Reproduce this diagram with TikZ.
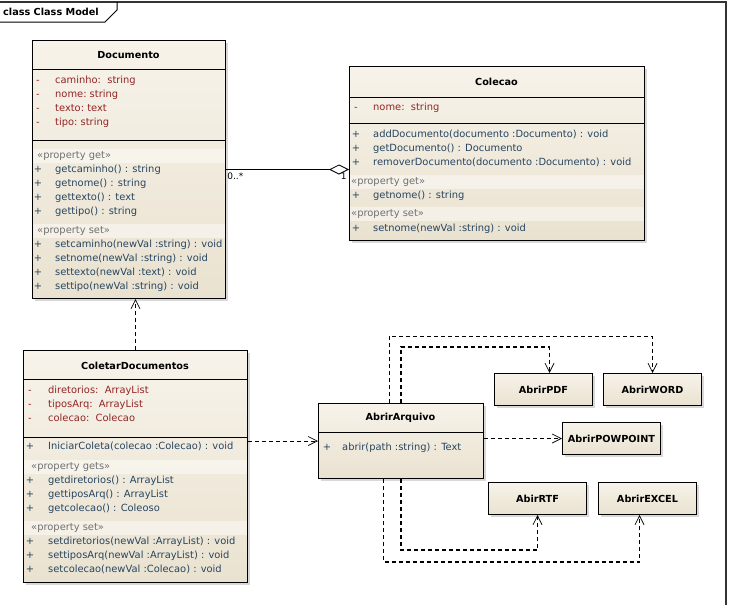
\documentclass[tikz,border=0pt]{standalone}
\usepackage{fontspec}
\setmainfont{DejaVu Sans}
\usetikzlibrary{arrows.meta,shadows,positioning,calc}

\definecolor{boxtop}{HTML}{F7F3EA}
\definecolor{boxbot}{HTML}{EAE2D0}
\definecolor{attrcol}{HTML}{922525}
\definecolor{methcol}{HTML}{274560}
\definecolor{stereocol}{HTML}{707070}

\tikzset{
  classbox/.style={draw=black, line width=1pt, top color=boxtop, bottom color=boxbot,
    drop shadow={shadow xshift=2.5pt, shadow yshift=-2.5pt, fill=black!30},
    inner sep=0pt, anchor=north west},
  smallbox/.style={classbox, minimum width=98pt, minimum height=32pt,
    font=\fontsize{9.7}{11}\selectfont\bfseries},
  titletext/.style={font=\fontsize{9.7}{11}\selectfont\bfseries, inner sep=0pt},
  member/.style={font=\fontsize{9.9}{11}\selectfont, inner sep=0pt, anchor=west,
    text height=7pt, text depth=2pt},
  attr/.style={member, text=attrcol},
  meth/.style={member, text=methcol},
  stereo/.style={member, text=stereocol},
  lbl/.style={font=\fontsize{9}{11}\selectfont, inner sep=1pt},
  band/.style={fill=white, fill opacity=0.45},
  sep/.style={line width=1pt},
  dep/.style={dash pattern=on 4pt off 3pt, line width=0.7pt,
    -{Straight Barb[length=9pt, width=9pt, line width=0.7pt]}},
  depbold/.style={dep, line width=1.1pt}
}

\begin{document}
\begin{tikzpicture}[x=1pt, y=-1pt]
\useasboundingbox (0,0) rectangle (730,605);

% moldura do diagrama
\draw[line width=1.2pt, black!80] (0,2) -- (726,2) -- (726,605);
\draw[line width=1pt] (0,22) -- (105,22) -- (117,10) -- (117,2);
\node[titletext, anchor=west] (frame) at (3,12) {class Class Model};

% classe Documento
\node[classbox, minimum width=193pt, minimum height=258pt] (doc) at (32,40) {};
\fill[band] (32.5,149) rectangle (224.5,163);
\fill[band] (32.5,224) rectangle (224.5,238);
\draw[sep] (32,69) -- (225,69);
\draw[sep] (32,140) -- (225,140);
\node[titletext] (doc-t) at (128.5,55) {Documento};
\foreach \txt [count=\i] in {caminho:\ \ string, nome:\ string, texto:\ text, tipo:\ string}{
  \node[attr, anchor=center] (doc-s\i) at (38,{67+14*\i}) {-};
  \node[attr] (doc-a\i) at (55,{67+14*\i}) {\txt};
}
\node[stereo] (doc-g) at (37,156) {«property get»};
\foreach \txt [count=\i] in {getcaminho() : string, getnome() : string, gettexto() : text, gettipo() : string}{
  \node[meth, anchor=center] (doc-gs\i) at (38,{156+14*\i}) {+};
  \node[meth] (doc-gm\i) at (55,{156+14*\i}) {\txt};
}
\node[stereo] (doc-p) at (37,231) {«property set»};
\foreach \txt [count=\i] in {setcaminho(newVal :string) : void, setnome(newVal :string) : void, settexto(newVal :text) : void, settipo(newVal :string) : void}{
  \node[meth, anchor=center] (doc-ps\i) at (38,{231+14*\i}) {+};
  \node[meth] (doc-pm\i) at (55,{231+14*\i}) {\txt};
}

% classe Colecao
\node[classbox, minimum width=295pt, minimum height=174pt] (col) at (349,66) {};
\fill[band] (349.5,175) rectangle (643.5,189);
\fill[band] (349.5,207) rectangle (643.5,221);
\draw[sep] (349,97) -- (644,97);
\draw[sep] (349,123) -- (644,123);
\node[titletext] (col-t) at (496.5,82) {Colecao};
\node[attr, anchor=center] (col-s1) at (356,108) {-};
\node[attr] (col-a1) at (373,108) {nome:\ \ string};
\foreach \txt [count=\i] in {addDocumento(documento :Documento) : void, getDocumento() : Documento, removerDocumento(documento :Documento) : void}{
  \node[meth, anchor=center] (col-ms\i) at (356,{121+14*\i}) {+};
  \node[meth] (col-m\i) at (373,{121+14*\i}) {\txt};
}
\node[stereo] (col-g) at (351,182) {«property get»};
\node[meth, anchor=center] (col-gs1) at (356,196) {+};
\node[meth] (col-gm1) at (373,196) {getnome() : string};
\node[stereo] (col-p) at (351,214) {«property set»};
\node[meth, anchor=center] (col-ps1) at (356,229) {+};
\node[meth] (col-pm1) at (373,229) {setnome(newVal :string) : void};

% classe ColetarDocumentos
\node[classbox, minimum width=224pt, minimum height=232pt] (colet) at (23,350) {};
\fill[band] (23.5,460) rectangle (246.5,474);
\fill[band] (23.5,521) rectangle (246.5,535);
\draw[sep] (23,379) -- (247,379);
\draw[sep] (23,437) -- (247,437);
\node[titletext] (colet-t) at (135,366) {ColetarDocumentos};
\foreach \txt [count=\i] in {diretorios:\ \ ArrayList, tiposArq:\ \ ArrayList, colecao:\ \ Colecao}{
  \node[attr, anchor=center] (colet-s\i) at (30,{377+14*\i}) {-};
  \node[attr] (colet-a\i) at (48,{377+14*\i}) {\txt};
}
\node[meth, anchor=center] (colet-ms1) at (30,447) {+};
\node[meth] (colet-m1) at (48,447) {IniciarColeta(colecao :Colecao) : void};
\node[stereo] (colet-g) at (31,467) {«property gets»};
\foreach \txt [count=\i] in {getdiretorios() : ArrayList, gettiposArq() : ArrayList, getcolecao() : Coleoso}{
  \node[meth, anchor=center] (colet-gs\i) at (30,{467+14*\i}) {+};
  \node[meth] (colet-gm\i) at (48,{467+14*\i}) {\txt};
}
\node[stereo] (colet-p) at (31,528) {«property set»};
\foreach \txt [count=\i] in {setdiretorios(newVal :ArrayList) : void, settiposArq(newVal :ArrayList) : void, setcolecao(newVal :Colecao) : void}{
  \node[meth, anchor=center] (colet-ps\i) at (30,{528+14*\i}) {+};
  \node[meth] (colet-pm\i) at (48,{528+14*\i}) {\txt};
}

% classe AbrirArquivo
\node[classbox, minimum width=165pt, minimum height=75pt] (arq) at (318,403) {};
\draw[sep] (318,432) -- (483,432);
\node[titletext] (arq-t) at (400.5,418) {AbrirArquivo};
\node[meth, anchor=center] (arq-ms1) at (327,448) {+};
\node[meth] (arq-m1) at (342,448) {abrir(path :string) : Text};

% classes de formatos
\node[smallbox] (pdf) at (494,373) {AbrirPDF};
\node[smallbox, right=10pt of pdf] (word) {AbrirWORD};
\node[smallbox] (ppt) at (562,422) {AbrirPOWPOINT};
\node[smallbox] (rtf) at (488,482) {AbirRTF};
\node[smallbox, right=11pt of rtf] (xls) {AbrirEXCEL};

% associacao
\draw[line width=0.8pt, -{Diamond[open, length=20pt, width=10pt, line width=0.8pt]}]
  (doc.east) -- node[pos=0, below right, lbl, yshift=-2pt] (m-doc) {0..*}
  node[pos=1, below left, lbl, xshift=-1pt, yshift=-2pt] (m-col) {1} (col.west |- doc.east);

% dependencias
\draw[dep] (colet.north) -- (colet.north |- doc.south);
\draw[dep] (colet.east |- arq.west) -- (arq.west);
\draw[dep] (arq.east |- ppt.west) -- (ppt.west);
\draw[depbold] (arq.north) -- ++(0,-56) -| ([xshift=6pt]pdf.north);
\draw[dep] ([xshift=-12pt]arq.north) -- ++(0,-67) -| (word.north);
\draw[depbold] (arq.south) -- ++(0,71) -| (rtf.south);
\draw[depbold] ([xshift=-17.5pt]arq.south) -- ++(0,83) -| ([xshift=-8pt]xls.south);
\end{tikzpicture}
\end{document}
